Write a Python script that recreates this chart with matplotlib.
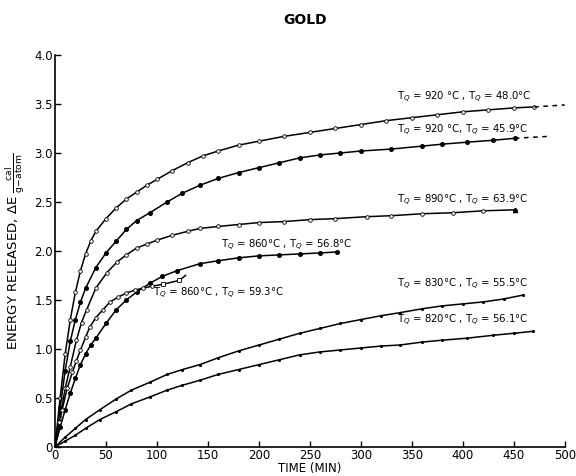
import matplotlib
matplotlib.use("Agg")
import matplotlib.pyplot as plt

plt.rcParams['font.family'] = ['DejaVu Sans']

# 920C quench, 48.0C anneal (open circles)
t_a = [0, 5, 10, 15, 20, 25, 30, 35, 40, 50, 60, 70, 80, 90, 100, 115, 130, 145,
       160, 180, 200, 225, 250, 275, 300, 325, 350, 375, 400, 425, 450, 470]
e_a = [0, 0.5, 0.95, 1.3, 1.58, 1.8, 1.97, 2.1, 2.2, 2.33, 2.44, 2.53, 2.6, 2.67,
       2.73, 2.82, 2.9, 2.97, 3.02, 3.08, 3.12, 3.17, 3.21, 3.25, 3.29, 3.33, 3.36,
       3.39, 3.42, 3.44, 3.46, 3.47]
t_a_ext = [470, 500]
e_a_ext = [3.47, 3.49]

# 920C quench, 45.9C anneal (filled circles)
t_b = [0, 5, 10, 15, 20, 25, 30, 40, 50, 60, 70, 80, 93, 110, 125, 142, 160, 180,
       200, 220, 240, 260, 280, 300, 330, 360, 380, 404, 430, 451]
e_b = [0, 0.4, 0.78, 1.08, 1.3, 1.48, 1.62, 1.83, 1.98, 2.1, 2.22, 2.31, 2.39, 2.5,
       2.59, 2.67, 2.74, 2.8, 2.85, 2.9, 2.95, 2.98, 3.0, 3.02, 3.04, 3.07, 3.09,
       3.11, 3.13, 3.15]
t_b_ext = [451, 485]
e_b_ext = [3.15, 3.17]

# 890C / 63.9C
t_c = [0, 5, 10, 15, 21, 26, 31, 40, 51, 61, 70, 80, 90, 100, 115, 130, 142, 160,
       180, 200, 225, 250, 275, 306, 330, 360, 390, 420, 451]
e_c = [0, 0.3, 0.6, 0.82, 1.09, 1.27, 1.4, 1.62, 1.78, 1.89, 1.96, 2.03, 2.07, 2.11,
       2.16, 2.2, 2.23, 2.25, 2.27, 2.29, 2.3, 2.32, 2.33, 2.35, 2.36, 2.38, 2.39,
       2.41, 2.42]

# 860C / 56.8C
t_d = [0, 5, 10, 15, 20, 25, 30, 35, 40, 50, 60, 70, 80, 93, 105, 120, 142, 160,
       180, 200, 220, 240, 260, 277]
e_d = [0, 0.2, 0.38, 0.55, 0.7, 0.84, 0.95, 1.04, 1.11, 1.26, 1.4, 1.5, 1.58, 1.67,
       1.74, 1.8, 1.87, 1.9, 1.93, 1.95, 1.96, 1.97, 1.98, 1.99]

# 860C / 59.3C
t_e = [0, 4, 7, 12, 17, 21, 25, 30, 34, 40, 47, 54, 62, 70, 78, 86, 95]
e_e = [0, 0.25, 0.38, 0.6, 0.76, 0.88, 0.99, 1.12, 1.22, 1.32, 1.4, 1.48, 1.53,
       1.57, 1.6, 1.62, 1.64]
t_e_sq = [106, 122]
e_e_sq = [1.66, 1.7]
t_e_end = 128
e_e_end = 1.75

# 830C / 55.5C
t_f = [0, 10, 20, 30, 44, 60, 75, 93, 110, 125, 142, 160, 180, 200, 220, 240, 260,
       280, 300, 320, 338, 360, 380, 400, 420, 440, 459]
e_f = [0, 0.1, 0.19, 0.28, 0.38, 0.49, 0.58, 0.66, 0.74, 0.79, 0.84, 0.91, 0.98,
       1.04, 1.1, 1.16, 1.21, 1.26, 1.3, 1.34, 1.37, 1.41, 1.44, 1.46, 1.48, 1.51,
       1.55]

# 820C / 56.1C
t_g = [0, 10, 20, 30, 44, 60, 75, 93, 110, 125, 142, 160, 180, 200, 220, 240, 260,
       280, 300, 320, 338, 360, 380, 404, 430, 450, 469]
e_g = [0, 0.06, 0.12, 0.19, 0.28, 0.36, 0.44, 0.51, 0.58, 0.63, 0.68, 0.74, 0.79,
       0.84, 0.89, 0.94, 0.97, 0.99, 1.01, 1.03, 1.04, 1.07, 1.09, 1.11, 1.14, 1.16,
       1.18]

labels = {
    'a': (335, 3.57, r'T$_Q$ = 920 °C , T$_Q$ = 48.0°C'),
    'b': (335, 3.23, r'T$_Q$ = 920 °C, T$_Q$ = 45.9°C'),
    'c': (335, 2.52, r'T$_Q$ = 890°C , T$_Q$ = 63.9°C'),
    'd': (163, 2.06, r'T$_Q$ = 860°C , T$_Q$ = 56.8°C'),
    'e': (96, 1.57, r'T$_Q$ = 860°C , T$_Q$ = 59.3°C'),
    'f': (335, 1.66, r'T$_Q$ = 830°C , T$_Q$ = 55.5°C'),
    'g': (335, 1.29, r'T$_Q$ = 820°C , T$_Q$ = 56.1°C'),
}

fig = plt.figure(figsize=(5.76, 4.76), dpi=100)
ax = fig.add_axes([0.0955, 0.061, 0.885, 0.8235])

lw = 1.1
ms = 2.6
ax.plot(t_a, e_a, '-', color='black', lw=lw, marker='o', ms=ms,
        mfc='white', mec='black', mew=0.6)
ax.plot(t_a_ext, e_a_ext, '--', color='black', lw=lw, dashes=(3, 3))
ax.plot(t_b, e_b, '-', color='black', lw=lw, marker='o', ms=ms,
        mfc='black', mec='black')
ax.plot(t_b_ext, e_b_ext, '--', color='black', lw=lw, dashes=(3, 3))
ax.plot(t_c, e_c, '-', color='black', lw=lw, marker='o', ms=ms,
        mfc='white', mec='black', mew=0.6)
ax.plot(t_c[-1:], e_c[-1:], '^', color='black', ms=3)
ax.plot(t_d, e_d, '-', color='black', lw=lw, marker='o', ms=ms,
        mfc='black', mec='black')
ax.plot(t_e + t_e_sq + [t_e_end], e_e + e_e_sq + [e_e_end], '-', color='black', lw=lw)
ax.plot(t_e, e_e, 'o', ms=ms, mfc='white', mec='black', mew=0.6)
ax.plot(t_e_sq, e_e_sq, 's', ms=2.6, mfc='white', mec='black', mew=0.6)
ax.plot(t_f, e_f, '-', color='black', lw=lw, marker='.', ms=2.5)
ax.plot(t_g, e_g, '-', color='black', lw=lw, marker='.', ms=2.5)

for x, y, s in labels.values():
    ax.text(x, y, s, fontsize=7.3, va='center', ha='left')

ax.set_xlim(0, 500)
ax.set_ylim(0, 4.0)
ax.set_xticks(range(0, 501, 50))
ax.set_yticks([0, 0.5, 1.0, 1.5, 2.0, 2.5, 3.0, 3.5, 4.0])
ax.set_yticklabels(['0', '0.5', '1.0', '1.5', '2.0', '2.5', '3.0', '3.5', '4.0'])
ax.tick_params(direction='in', length=4, width=1, labelsize=8.5, pad=1.5)
for side in ['top', 'right']:
    ax.spines[side].set_visible(False)
for side in ['left', 'bottom']:
    ax.spines[side].set_linewidth(1.2)

ax.set_xlabel('TIME (MIN)', fontsize=8.5, labelpad=0)
ax.set_ylabel(r'ENERGY RELEASED, $\Delta$E $\frac{\mathrm{cal}}{\mathrm{g{-}atom}}$',
              fontsize=9.5, labelpad=5)
fig.text(0.53, 0.957, 'GOLD', fontsize=10, fontweight='bold', ha='center', va='center')

fig.savefig('out.png', dpi=100)
